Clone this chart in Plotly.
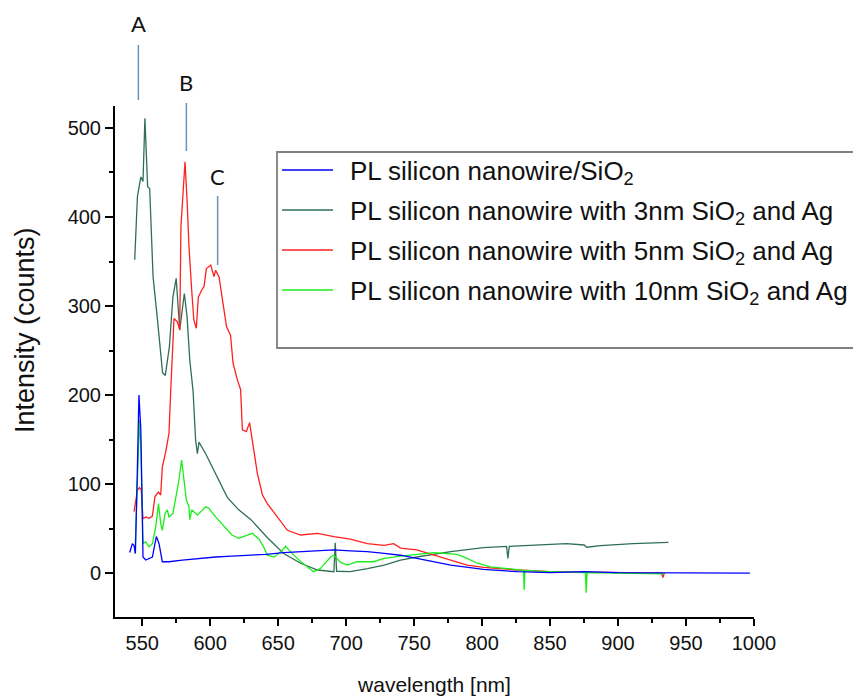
import plotly.graph_objects as go

# ---------------- data ----------------
wl_sio2 = [540.8, 542.8, 544, 545, 546.5, 547.6, 549, 550.6, 552.6, 555, 557.5, 560.4, 562.4,
           564.8, 569.7, 579.5, 591.8, 604, 616, 628.5, 641, 654, 666.5, 691, 703, 715.6, 728,
           740, 752, 777, 801, 826, 850, 875, 900, 948, 997]
int_sio2 = [23, 33, 31, 22, 120, 200, 161, 18, 14.6, 16.5, 18, 41, 33,
            12.7, 12.7, 14.6, 16.5, 18, 19, 20, 21, 23, 24, 26, 25, 24, 22,
            20, 16.5, 9, 4, 1.5, 0.4, 1.5, 0.5, 0, 0]

wl_3nm = [544.5, 546.5, 549, 550.6, 552, 554, 555.5, 558, 561, 565, 567, 570, 572.6, 575,
          577.6, 581, 583, 585, 587.4, 589.3, 590.6, 591.8, 596.7, 604, 612.6, 621, 630, 642,
          654, 666.5, 679, 691, 692, 693, 703, 715.6, 728, 740, 752, 777, 801, 818, 819, 820,
          838, 862, 875, 877, 887, 911, 937]
int_3nm = [352, 423, 445, 440, 511, 434, 432, 333, 288, 225, 222, 254, 310, 331,
           273, 314, 288, 239, 205, 149, 134, 147, 134, 112, 85, 71, 60, 40,
           22, 11, 3.4, 1.5, 34, 2, 1.5, 5, 9, 14.6, 18, 24, 28.5, 30, 16.5, 30,
           31.5, 33, 31.5, 29, 30.7, 33, 34.5]

wl_5nm = [544, 546.5, 548, 549.3, 550.6, 552.6, 555, 557.5, 559.4, 562, 563.6, 564.8, 567.3,
          569.7, 571, 573.4, 576, 577.6, 578.5, 581.5, 583, 584.4, 586.4, 588, 589.8, 591.3,
          593.8, 595.5, 597.2, 600.4, 602.8, 604, 606.5, 609, 612, 615, 616.8, 620, 622.4,
          623.7, 626.6, 629, 631.5, 634.7, 638.4, 642, 649.4, 656.8, 666.5, 679, 691, 703,
          715.6, 728, 735, 740, 752, 777, 789, 801, 826, 850, 875, 899, 932, 933, 934]
int_5nm = [69, 93, 96, 93, 61, 63, 61.5, 64, 86, 91, 87.6, 119, 136,
           157, 205, 286, 282, 273, 389, 462, 419, 367, 318, 284, 275, 310,
           318, 322, 342, 346, 333, 340, 333, 307, 277, 267, 236, 217, 206,
           161, 159, 169, 146, 112, 88, 78, 63, 48, 42.7, 44.6, 41, 38,
           33, 31, 33, 28, 26, 14.6, 9, 6.4, 3.4, 1.5, 0.8, 0.4, 0, -5, 0]

wl_10nm = [544.7, 546.5, 548, 549, 550.6, 552.6, 555, 557.5, 560, 562, 563.6, 564.8, 566.8,
           568.5, 569.7, 572.6, 574.6, 577, 579, 580.7, 582.5, 584.4, 585, 586.4, 590.6, 596.7,
           599, 604, 609, 614, 616, 621, 627, 631, 636, 639.8, 642, 647, 652, 655.5, 659,
           666.5, 676, 681, 688.6, 691, 696, 701, 708, 720, 728, 740, 764.6, 781.6, 789,
           796.5, 806, 826, 830.5, 831, 831.5, 850, 876, 876.6, 877.2, 899, 934]
int_10nm = [22, 104, 172, 142, 33, 35, 29.5, 33, 52, 78, 56, 48, 67,
            71, 63, 67, 82, 104, 127, 104, 82, 74.5, 60, 71, 65, 74.5,
            72.7, 63, 54, 46, 42.7, 39, 42.7, 44.6, 38, 28, 20, 18, 24, 30, 24,
            13, 1.5, 5, 18, 20, 12, 9, 12.7, 12.7, 16.5, 19, 23, 21, 16.5,
            11, 7, 3.4, 3, -19, 3, 1.5, 0.5, -22, 0.5, 0, -1]

series_names = [
    "PL silicon nanowire/SiO<sub>2</sub>",
    "PL silicon nanowire with 3nm SiO<sub>2</sub> and Ag",
    "PL silicon nanowire with 5nm SiO<sub>2</sub> and Ag",
    "PL silicon nanowire with 10nm SiO<sub>2</sub> and Ag",
]
series_colors = ["#0000ff", "#2f6f57", "#ff2020", "#1aee1a"]

peak_labels = ["A", "B", "C"]
peak_wl = [547.2, 582.5, 605.5]

x_ticks = [550, 600, 650, 700, 750, 800, 850, 900, 950, 1000]
y_ticks = [0, 100, 200, 300, 400, 500]

x_title = "wavelength [nm]"
y_title = "Intensity (counts)"

# ---------------- figure ----------------
# page body has an 8px margin, so the figure is sized/offset to fit the 861x697 window
OFF = 8
W, H = 861 - OFF, 697 - OFF
ML, MT = 115 - OFF, 106 - OFF
PW, PH = 639, 511
MR, MB = W - ML - PW, H - MT - PH


def px2paper(px, py):
    """window pixel -> paper coords"""
    fx, fy = px - OFF, py - OFF
    return (fx - ML) / PW, (MT + PH - fy) / PH


fig = go.Figure()
xs = [wl_sio2, wl_3nm, wl_5nm, wl_10nm]
ys = [int_sio2, int_3nm, int_5nm, int_10nm]
for i in [1, 2, 3, 0]:
    fig.add_trace(go.Scatter(x=xs[i], y=ys[i], mode="lines", name=series_names[i],
                             line=dict(color=series_colors[i], width=1.3),
                             showlegend=False))

shapes = []
annotations = []

# peak markers A, B, C
peak_line_py = [(45, 100), (103, 151), (196, 265)]
peak_text_py = [24, 82, 176]
for lab, w, (y0p, y1p), ty in zip(peak_labels, peak_wl, peak_line_py, peak_text_py):
    shapes.append(dict(type="line", xref="x", yref="paper", x0=w, x1=w,
                       y0=px2paper(0, y0p)[1], y1=px2paper(0, y1p)[1],
                       line=dict(color="#6a93b8", width=1.5)))
    annotations.append(dict(x=w, xref="x", y=px2paper(0, ty)[1], yref="paper",
                            text=lab, showarrow=False, xanchor="center", yanchor="middle",
                            font=dict(family="Lato", size=22, color="#111111")))

# legend box
bx0, by0 = px2paper(277, 152)
bx1, by1 = px2paper(885, 348)
shapes.append(dict(type="rect", xref="paper", yref="paper", x0=bx0, x1=bx1, y0=by1, y1=by0,
                   line=dict(color="#808080", width=1.8), fillcolor="rgba(255,255,255,0)"))
row_py = [170, 210, 250, 290]
for name, col, ry in zip(series_names, series_colors, row_py):
    lx0, ly = px2paper(282, ry)
    lx1, _ = px2paper(333, ry)
    shapes.append(dict(type="line", xref="paper", yref="paper", x0=lx0, x1=lx1, y0=ly, y1=ly,
                       line=dict(color=col, width=1.5)))
    tx, ty = px2paper(348, ry + 2)
    annotations.append(dict(x=tx, y=ty, xref="paper", yref="paper", text=name,
                            showarrow=False, xanchor="left", yanchor="middle",
                            font=dict(family="Liberation Sans", size=26, color="#111111")))

# y axis title (rotated text, off-centre like the reference)
yt_x, yt_y = px2paper(25, 330)
annotations.append(dict(x=yt_x, y=yt_y, xref="paper", yref="paper", text=y_title,
                        showarrow=False, textangle=-90, xanchor="center", yanchor="middle",
                        font=dict(family="Liberation Sans", size=27, color="#111111")))

fig.update_layout(
    width=W, height=H,
    margin=dict(l=ML, r=MR, t=MT, b=MB, autoexpand=False),
    paper_bgcolor="white", plot_bgcolor="white",
    font=dict(family="Liberation Sans", color="#111111"),
    shapes=shapes, annotations=annotations,
    showlegend=False,
)
fig.update_xaxes(
    range=[530, 1000], tickvals=x_ticks, ticks="outside", ticklen=7, tickwidth=1.5,
    tickcolor="black", showline=True, linecolor="black", linewidth=2, showgrid=False,
    zeroline=False, tickfont=dict(size=20, family="Liberation Sans"),
    minor=dict(dtick=25, tick0=525, ticks="outside", ticklen=4, tickwidth=1.5, tickcolor="black",
               showgrid=False),
    title=dict(text=x_title, font=dict(size=21, family="Liberation Sans"), standoff=24),
)
fig.update_yaxes(
    range=[-49.4, 524.7], tickvals=y_ticks, ticks="outside", ticklen=8, tickwidth=1.5,
    tickcolor="black", showline=True, linecolor="black", linewidth=2, showgrid=False,
    zeroline=False, tickfont=dict(size=20, family="Liberation Sans"),
    minor=dict(dtick=50, tick0=0, ticks="outside", ticklen=4, tickwidth=1.5, tickcolor="black",
               showgrid=False),
)

fig.write_html("out.html")
